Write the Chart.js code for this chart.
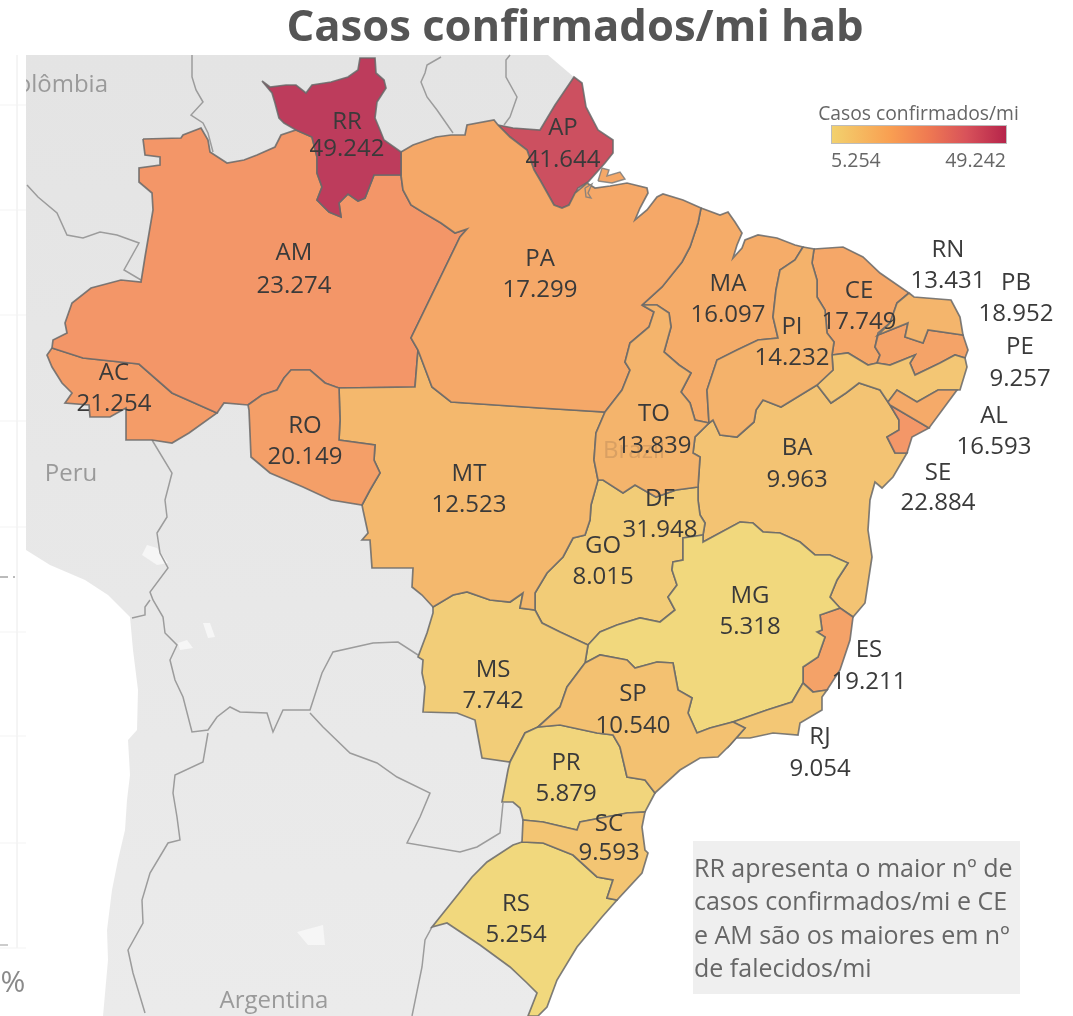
<!DOCTYPE html>
<html lang="pt-BR">
<head>
<meta charset="utf-8">
<title>Casos confirmados/mi hab</title>
<script src="https://cdn.jsdelivr.net/npm/chart.js@4"></script>
<style>
html,body{margin:0;padding:0;background:#fff}
#wrap{position:relative;width:1073px;height:1016px;overflow:hidden}
canvas{display:block}
</style>
</head>
<body>
<div id="wrap"><canvas id="c" width="1073" height="1016"></canvas></div>
<script>
// ---- Data ----
const chartTitle = "Casos confirmados/mi hab";
const legendTitle = "Casos confirmados/mi";
const stateCodes = ["AC","AM","AP","BA","CE","DF","ES","GO","MA","MG","MS","MT","PA","PB","PE","PI","PR","RJ","RN","RO","RR","RS","SC","SE","SP","TO","AL"];
const stateValues = [21.254,23.274,41.644,9.963,17.749,31.948,19.211,8.015,16.097,5.318,7.742,12.523,17.299,18.952,9.257,14.232,5.879,9.054,13.431,20.149,49.242,5.254,9.593,22.884,10.540,13.839,16.593];
const valueMin = 5.254, valueMax = 49.242;
const noteLines = ["RR apresenta o maior nº de","casos confirmados/mi e CE","e AM são os maiores em nº","de falecidos/mi"];

// Map geometry, in map units of the x/y scales
const stateShapes = {
RR:[[262,81],[270,87],[286,85],[296,85],[306,93],[312,85],[331,82],[348,77],[358,70],[360,58],[375,58],[376,73],[384,80],[386,88],[377,102],[375,118],[380,130],[384,140],[401,152],[401,175],[374,175],[365,198],[358,201],[348,194],[339,203],[341,217],[329,212],[317,200],[322,187],[317,173],[317,157],[312,137],[296,130],[284,123],[279,118],[275,103],[272,93]],
AM:[[143,139],[181,138],[183,135],[201,128],[208,140],[210,152],[227,163],[244,160],[257,155],[275,147],[281,135],[296,130],[312,137],[317,157],[317,173],[322,187],[317,200],[329,212],[341,217],[339,203],[348,194],[358,201],[365,198],[374,175],[401,175],[403,190],[411,205],[424,213],[441,223],[455,233],[467,229],[460,237],[411,338],[418,350],[415,387],[339,388],[336,387],[325,383],[310,370],[291,370],[284,378],[277,390],[262,395],[248,405],[224,403],[217,413],[172,393],[139,364],[83,358],[52,348],[53,340],[67,333],[65,323],[72,303],[91,288],[121,280],[141,282],[145,257],[153,210],[152,193],[139,182],[139,168],[160,165],[160,157],[145,155]],
AC:[[52,348],[83,358],[139,364],[172,393],[217,413],[189,433],[172,443],[152,440],[126,440],[126,408],[110,417],[90,417],[89,405],[65,403],[72,393],[62,383],[52,367],[47,355]],
RO:[[248,405],[262,395],[277,390],[284,378],[291,370],[310,370],[325,383],[336,387],[339,388],[340,420],[339,440],[375,445],[374,460],[380,473],[370,490],[362,505],[331,500],[303,487],[270,473],[251,457],[250,433],[249,410]],
MT:[[339,388],[415,387],[418,350],[432,387],[451,402],[540,408],[605,412],[596,433],[594,460],[598,480],[591,505],[590,520],[585,535],[573,538],[563,557],[547,573],[535,593],[535,610],[520,608],[523,593],[510,602],[490,600],[467,592],[453,595],[433,607],[422,595],[412,587],[413,568],[372,568],[370,540],[362,540],[368,533],[363,510],[362,505],[370,490],[380,473],[374,460],[375,445],[339,440],[340,420]],
PA:[[401,152],[413,145],[436,137],[451,135],[465,135],[467,125],[494,120],[498,125],[510,137],[527,150],[534,170],[540,180],[554,205],[562,208],[569,205],[575,193],[587,183],[595,188],[610,186],[627,183],[647,188],[648,193],[640,208],[635,220],[647,210],[657,197],[663,194],[683,200],[701,208],[698,223],[690,247],[682,262],[662,287],[642,305],[654,312],[649,327],[630,343],[625,362],[630,370],[622,390],[605,412],[540,408],[451,402],[432,387],[418,350],[411,338],[460,237],[467,229],[455,233],[441,223],[424,213],[411,205],[403,190],[401,175]],
AP:[[498,125],[513,128],[540,130],[555,105],[574,77],[582,83],[586,107],[598,130],[613,140],[613,153],[605,163],[588,182],[578,188],[572,200],[569,205],[562,208],[554,205],[540,180],[534,170],[527,150],[510,137]],
MA:[[701,208],[720,215],[728,212],[735,222],[742,233],[737,245],[733,258],[742,248],[745,240],[758,235],[777,238],[795,245],[803,247],[795,260],[780,270],[776,290],[773,317],[778,338],[758,340],[737,350],[717,360],[707,390],[709,423],[695,420],[690,403],[681,392],[691,373],[679,365],[664,352],[671,327],[669,313],[657,305],[642,305],[662,287],[682,262],[690,247],[698,223]],
PI:[[803,247],[814,249],[812,263],[817,280],[817,297],[825,310],[827,333],[834,342],[832,355],[833,370],[817,385],[781,407],[763,400],[756,410],[754,422],[737,437],[720,435],[713,420],[709,423],[707,390],[717,360],[737,350],[758,340],[778,338],[773,317],[776,290],[780,270],[795,260]],
TO:[[642,305],[657,305],[669,313],[671,327],[664,352],[679,365],[691,373],[681,392],[690,403],[695,420],[709,423],[695,437],[693,453],[700,457],[698,487],[676,490],[656,497],[635,485],[623,493],[603,480],[598,480],[594,460],[596,433],[605,412],[622,390],[630,370],[625,362],[630,343],[649,327],[654,312]],
GO:[[598,480],[603,480],[623,493],[635,485],[656,497],[676,490],[698,487],[698,500],[700,515],[705,523],[703,535],[683,538],[683,560],[673,562],[672,570],[677,585],[668,597],[675,610],[660,622],[640,618],[617,625],[600,632],[588,645],[560,632],[542,623],[535,610],[535,593],[547,573],[563,557],[573,538],[585,535],[590,520],[591,505]],
MS:[[535,610],[520,608],[523,593],[510,602],[490,600],[467,592],[453,595],[433,607],[433,613],[427,633],[418,657],[423,660],[422,673],[425,687],[423,712],[457,713],[475,720],[482,758],[510,762],[525,733],[538,727],[560,707],[567,687],[585,663],[588,645],[560,632],[542,623]],
MG:[[588,645],[600,632],[617,625],[640,618],[660,622],[675,610],[668,597],[677,585],[672,570],[673,562],[683,560],[683,538],[703,535],[703,542],[740,522],[753,523],[763,532],[780,533],[800,542],[815,555],[830,555],[848,563],[837,580],[830,597],[840,608],[820,615],[822,630],[817,632],[825,637],[818,657],[803,667],[803,683],[792,702],[767,710],[733,722],[710,728],[697,733],[688,713],[692,698],[678,690],[673,663],[657,662],[635,668],[627,660],[600,655],[585,663]],
BA:[[709,423],[713,420],[720,435],[737,437],[754,422],[756,410],[763,400],[781,407],[817,385],[831,403],[846,393],[859,383],[880,390],[888,402],[890,405],[899,420],[899,430],[887,437],[895,453],[907,453],[893,477],[882,488],[875,482],[870,500],[868,530],[872,557],[865,603],[853,617],[840,608],[830,597],[837,580],[848,563],[830,555],[815,555],[800,542],[780,533],[763,532],[753,523],[740,522],[703,542],[703,535],[705,523],[700,515],[698,500],[698,487],[700,457],[693,453],[695,437]],
ES:[[840,608],[853,617],[850,640],[840,670],[827,690],[813,692],[803,683],[803,667],[818,657],[825,637],[817,632],[822,630],[820,615]],
RJ:[[803,683],[813,692],[827,690],[822,697],[822,710],[800,723],[798,735],[773,733],[750,738],[733,738],[730,745],[745,728],[733,722],[767,710],[792,702]],
SP:[[585,663],[600,655],[627,660],[635,668],[657,662],[673,663],[678,690],[692,698],[688,713],[697,733],[710,728],[733,722],[745,728],[730,745],[718,757],[700,758],[680,770],[655,793],[645,780],[627,777],[620,747],[613,735],[597,733],[560,725],[538,727],[560,707],[567,687]],
PR:[[510,762],[525,733],[538,727],[560,725],[597,733],[613,735],[620,747],[627,777],[645,780],[655,793],[645,812],[627,813],[580,822],[577,830],[543,822],[523,820],[520,808],[513,802],[502,802],[508,770]],
SC:[[523,820],[543,822],[577,830],[580,822],[627,813],[645,812],[642,827],[645,850],[648,853],[642,873],[617,900],[607,898],[613,880],[597,877],[573,855],[543,843],[522,842]],
RS:[[522,842],[543,843],[573,855],[597,877],[613,880],[607,898],[617,900],[602,917],[577,947],[557,980],[547,1007],[538,1016],[528,1016],[537,993],[527,983],[510,967],[480,945],[447,923],[432,927],[472,877],[487,862],[513,845]],
CE:[[814,249],[843,247],[863,257],[880,273],[909,293],[897,303],[890,323],[878,333],[875,347],[880,355],[877,363],[868,365],[848,353],[832,355],[834,342],[827,333],[825,310],[817,297],[817,280],[812,263]],
RN:[[909,293],[914,297],[951,300],[960,317],[963,335],[928,330],[923,343],[905,337],[908,323],[878,335],[890,323],[897,303]],
PB:[[878,335],[908,323],[905,337],[923,343],[928,330],[963,335],[968,350],[965,358],[955,355],[940,363],[915,375],[910,363],[915,355],[890,365],[877,363],[880,355],[875,347]],
PE:[[832,355],[848,353],[868,365],[877,363],[890,365],[915,355],[910,363],[915,375],[940,363],[955,355],[965,358],[967,367],[960,390],[957,390],[938,390],[917,402],[897,390],[888,402],[880,390],[859,383],[846,393],[831,403],[817,385],[833,370]],
AL:[[888,402],[897,390],[917,402],[938,390],[957,390],[929,428],[890,405]],
SE:[[890,405],[929,428],[912,437],[907,453],[895,453],[887,437],[899,430],[899,420]],
DF:[[652,550],[672,550],[673,562],[651,562]]
};
// Islands at the Amazon mouth belong to Pará
const paraIslands = [
 [[598,181],[602,168],[609,170],[607,176],[620,172],[625,179],[612,183]],
 [[585,188],[592,184],[588,193],[591,198],[586,197]]
];
// Label anchors: [x, y of code, y of value]
const labelAnchors = {RR:[347,122,149],AP:[563,128,160],AM:[294,253,286],PA:[540,259,290],MA:[728,284,315],PI:[792,327,358],CE:[859,291,322],RN:[948,250,281],PB:[1016,283,314],PE:[1020,347,379],AL:[994,416,447],SE:[938,473,503],BA:[797,448,480],TO:[654,414,446],DF:[660,499,530],GO:[603,546,577],MT:[469,474,505],MS:[493,670,701],MG:[750,596,627],SP:[633,694,726],ES:[869,650,682],RJ:[820,737,769],PR:[566,763,794],SC:[609,824,853],RS:[516,904,935],AC:[114,373,404],RO:[305,426,457]};

const landShape = [[26,55],[548,55],[575,78],[538,1016],[103,1016],[108,960],[107,930],[112,890],[118,860],[125,830],[127,800],[130,775],[128,740],[137,730],[138,690],[133,650],[130,617],[108,595],[85,580],[50,565],[26,550]];
const lakeShapes = [
 [[142,555],[147,545],[157,548],[168,563],[157,565]],
 [[203,623],[210,623],[215,637],[208,638]],
 [[178,643],[187,640],[193,648],[180,650]],
 [[297,932],[323,925],[325,945],[308,945]]
];
const foreignBorders = [
 [[192,55],[192,77],[196,90],[203,102],[191,115],[203,123],[208,133],[213,152]],
 [[27,185],[38,197],[57,213],[67,235],[83,238],[100,232],[117,235],[139,243],[124,270],[141,280]],
 [[441,57],[427,65],[425,73],[421,82],[427,97],[437,110],[453,133]],
 [[510,55],[506,60],[506,77],[517,97],[510,117],[504,125]],
 [[152,440],[172,473],[165,500],[167,517],[157,533],[160,553],[168,568],[150,592],[153,600],[163,617],[165,633],[177,645],[170,660],[175,680],[183,697],[192,732],[208,730],[217,717],[230,707],[240,712],[267,713],[273,732],[283,710],[310,710],[322,673],[333,652],[373,643],[398,642],[418,655]],
 [[150,600],[145,607],[145,615],[132,618]],
 [[208,733],[203,762],[175,775],[173,793],[177,817],[180,840],[168,843],[150,873],[142,900],[143,923],[128,950],[133,973],[145,1013]],
 [[310,713],[323,727],[350,753],[377,763],[397,777],[430,793],[420,817],[407,843],[460,852],[477,847],[500,833],[503,803]],
 [[432,927],[425,940],[422,967],[412,1016]]
];
const placeNames = [["Peru",71,473,"center"],["Argentina",274,1000,"center"],["Colômbia",108,84,"right"]];
const sideGridY = [105,210,315,421,527,632,736,843,948];

// ---- Colour ramp over the value range ----
const rampStops = [[0,"#f1d87d"],[0.165,"#f4b86d"],[0.274,"#f5a868"],[0.41,"#f39668"],[0.606,"#e9705f"],[0.826,"#cc5060"],[1,"#bd3c5c"]];
function hex(c){return [1,3,5].map(i=>parseInt(c.substr(i,2),16));}
function colourFor(v){
  const t=(v-valueMin)/(valueMax-valueMin);
  for(let i=1;i<rampStops.length;i++){
    if(t<=rampStops[i][0]){
      const [a,ca]=rampStops[i-1],[b,cb]=rampStops[i];
      const f=(t-a)/(b-a),A=hex(ca),B=hex(cb);
      return "rgb("+A.map((x,k)=>Math.round(x+(B[k]-x)*f)).join(",")+")";
    }
  }
  return rampStops[rampStops.length-1][1];
}
const pts = s => s.map(p=>({x:p[0],y:p[1]}));
const closed = s => pts(s.concat([s[0]]));

const canvas = document.getElementById("c");
const landFill = canvas.getContext("2d").createLinearGradient(0,55,0,1016);
landFill.addColorStop(0,"#e4e4e4");
landFill.addColorStop(1,"#ebebeb");

// ---- Datasets, listed back to front ----
const layers = [];
sideGridY.forEach(y=>layers.push({data:pts([[0,y],[26,y]]),borderColor:"#f3f3f3",borderWidth:1,fill:false}));
layers.push({data:pts([[17,55],[17,948]]),borderColor:"#f3f3f3",borderWidth:1,fill:false});
layers.push({data:pts([[0,577],[8,577]]),borderColor:"#777",borderWidth:1,fill:false});
layers.push({data:pts([[13,577],[15,577]]),borderColor:"#777",borderWidth:1,fill:false});
layers.push({data:pts([[0,945],[8,945]]),borderColor:"#999",borderWidth:1,fill:false});
layers.push({data:closed(landShape),borderColor:"rgba(0,0,0,0)",borderWidth:0,backgroundColor:landFill,fill:"shape"});
lakeShapes.forEach(s=>layers.push({data:closed(s),borderColor:"rgba(0,0,0,0)",borderWidth:0,backgroundColor:"#f6f6f6",fill:"shape"}));
foreignBorders.forEach(s=>layers.push({data:pts(s),borderColor:"#9c9c9c",borderWidth:1.5,fill:false}));
stateCodes.forEach((code,i)=>layers.push({label:code,data:closed(stateShapes[code]),backgroundColor:colourFor(stateValues[i]),borderColor:"rgba(105,105,105,0.85)",borderWidth:1.7,fill:"shape"}));
paraIslands.forEach(s=>layers.push({data:closed(s),backgroundColor:colourFor(stateValues[stateCodes.indexOf("PA")]),borderColor:"rgba(125,125,125,0.85)",borderWidth:1.4,fill:"shape"}));
layers.forEach((d,i)=>{d.order=layers.length-i;d.showLine=true;d.pointRadius=0;d.pointHoverRadius=0;d.tension=0;});

const textPlugin = {
  id:"mapText",
  afterDatasetsDraw(chart){
    const {ctx,scales:{x,y}}=chart;
    const X=v=>x.getPixelForValue(v),Y=v=>y.getPixelForValue(v);
    const put=(t,px,py,font,color,align)=>{ctx.font=font;ctx.fillStyle=color;ctx.textAlign=align||"center";ctx.textBaseline="middle";ctx.fillText(t,X(px),Y(py));};
    ctx.save();
    // place names (clipped to the map panel)
    ctx.save();
    ctx.beginPath();ctx.rect(X(26),Y(55),X(1073)-X(26),Y(1016)-Y(55));ctx.clip();
    placeNames.forEach(p=>put(p[0],p[1],p[2]+1,'500 24px "Open Sans"',"#9a9a9a",p[3]));
    ctx.restore();
    put("Brazil",634,451,'24px "Open Sans"',"rgba(190,140,90,0.5)");
    put("%",13,983,'30px "Open Sans"',"#8a8a8a");
    // state labels
    stateCodes.forEach((code,i)=>{
      const a=labelAnchors[code];
      put(code,a[0],a[1],'24px "Open Sans"',"#3a3a3a");
      put(stateValues[i].toFixed(3),a[0],a[2],'24px "Open Sans"',"#3a3a3a");
    });
    // title
    put(chartTitle,575,29,'700 43.6px "Open Sans"',"#555");
    // colour legend
    put(legendTitle,918.5,115,'19.3px "Open Sans"',"#666");
    const lx=X(831),lw=X(1007)-lx,ly=Y(125),lh=Y(144)-ly;
    const g=ctx.createLinearGradient(lx,0,lx+lw,0);
    [[0,"#f2d26e"],[0.33,"#f9a052"],[0.55,"#ef7a52"],[0.77,"#d8525a"],[1,"#b5234a"]].forEach(s=>g.addColorStop(s[0],s[1]));
    ctx.fillStyle=g;ctx.fillRect(lx,ly,lw,lh);
    ctx.strokeStyle="#bdbdbd";ctx.lineWidth=1;ctx.strokeRect(lx+.5,ly+.5,lw-1,lh-1);
    put(valueMin.toFixed(3),831,161,'19.5px "Open Sans"',"#666","left");
    put(valueMax.toFixed(3),1006,161,'19.5px "Open Sans"',"#666","right");
    // note box
    ctx.fillStyle="#efefef";ctx.fillRect(X(693),Y(841),X(1020)-X(693),Y(994)-Y(841));
    noteLines.forEach((l,i)=>put(l,694,[870,903,937,970][i],'25px "Open Sans"',"#666","left"));
    ctx.restore();
  }
};

new Chart(canvas,{
  type:"scatter",
  data:{datasets:layers},
  options:{
    responsive:false,
    animation:false,
    events:[],
    layout:{padding:0},
    plugins:{legend:{display:false},tooltip:{enabled:false},title:{display:false}},
    scales:{
      x:{type:"linear",min:0,max:1073,display:false},
      y:{type:"linear",min:0,max:1016,reverse:true,display:false}
    }
  },
  plugins:[textPlugin]
});
</script>
</body>
</html>
